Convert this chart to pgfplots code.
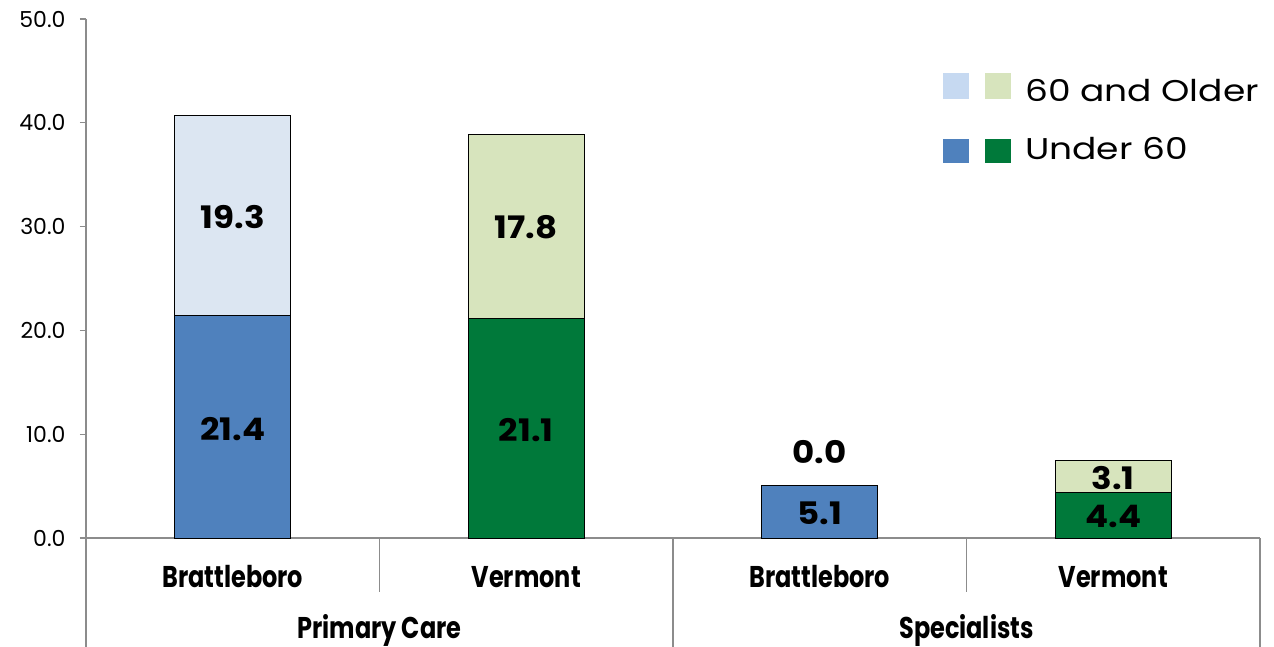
\documentclass[border=0pt]{standalone}
\usepackage{pgfplots}
\pgfplotsset{compat=1.18}
\usepackage{fontspec}
\setmainfont{Poppins}
\newfontfamily\lab[FakeStretch=0.8]{Poppins}
\newfontfamily\dlab[FakeStretch=1.1]{Poppins}
\newfontfamily\leg[FakeStretch=1.2]{Poppins}
\definecolor{bblue}{HTML}{4F81BD}
\definecolor{blight}{HTML}{DCE6F2}
\definecolor{vgreen}{HTML}{00793A}
\definecolor{glight}{HTML}{D7E4BD}
\definecolor{legblue}{HTML}{C6D9F1}
\definecolor{axgray}{HTML}{8C8C8C}
\begin{document}
\begin{tikzpicture}
\pgfplotsset{base/.style={at={(0,0)}, anchor=south west, scale only axis,
  width=1174pt, height=519pt, xmin=-0.5, xmax=3.5, ymin=0, ymax=50, clip=false}}
\begin{axis}[base, ybar stacked, bar width=116pt,
  axis x line*=bottom, axis y line*=left,
  axis line style={axgray, line width=1.2pt},
  ytick={0,10,...,50}, ytick style={axgray, line width=1.2pt},
  major tick length=6pt, tick align=outside,
  /pgf/number format/assume math mode=true,
  yticklabel={\pgfmathprintnumber[fixed,fixed zerofill,precision=1]{\tick}},
  yticklabel style={font=\fontsize{22}{26}\selectfont, xshift=-11pt},
  xtick={0,1,2,3}, xticklabels={Brattleboro,Vermont,Brattleboro,Vermont},
  xtick style={draw=none},
  xticklabel style={font=\lab\bfseries\fontsize{30}{32}\selectfont, anchor=base, yshift=-43pt},
]
\addplot[fill=bblue, draw=black, line width=1pt] coordinates {(0,21.4)(1,0)(2,5.1)(3,0)};
\addplot[fill=vgreen, draw=black, line width=1pt] coordinates {(0,0)(1,21.1)(2,0)(3,4.4)};
\addplot[fill=blight, draw=black, line width=1pt] coordinates {(0,19.3)(1,0)(2,0)(3,0)};
\addplot[fill=glight, draw=black, line width=1pt] coordinates {(0,0)(1,17.8)(2,0)(3,3.1)};
\draw[axgray, line width=1.2pt] (axis cs:-0.5,0) -- ([yshift=-110pt]axis cs:-0.5,0);
\draw[axgray, line width=1.2pt] (axis cs:0.5,0) -- ([yshift=-54pt]axis cs:0.5,0);
\draw[axgray, line width=1.2pt] (axis cs:1.5,0) -- ([yshift=-110pt]axis cs:1.5,0);
\draw[axgray, line width=1.2pt] (axis cs:2.5,0) -- ([yshift=-54pt]axis cs:2.5,0);
\draw[axgray, line width=1.2pt] (axis cs:3.5,0) -- ([yshift=-110pt]axis cs:3.5,0);
\node[font=\lab\bfseries\fontsize{30}{32}\selectfont, anchor=base] at ([yshift=-100pt]axis cs:0.5,0) {Primary Care};
\node[font=\lab\bfseries\fontsize{30}{32}\selectfont, anchor=base] at ([yshift=-100pt]axis cs:2.5,0) {Specialists};
\end{axis}
\begin{axis}[base, hide axis]
\addplot[only marks, mark=none, nodes near coords, point meta=explicit symbolic,
  nodes near coords style={font=\dlab\bfseries\fontsize{31}{34}\selectfont, anchor=center, text=black}]
  table[meta=lab] {
x y lab
0 10.5 21.4
0 30.9 19.3
1 10.4 21.1
1 29.9 17.8
2 2.4 5.1
2 8.3 0.0
3 2.1 4.4
3 5.8 3.1
};
\end{axis}
% legend
\fill[legblue] (857pt,439pt) rectangle (883pt,465pt);
\fill[glight] (899pt,439pt) rectangle (925pt,465pt);
\fill[bblue] (857pt,375pt) rectangle (883pt,399pt);
\fill[vgreen] (899pt,375pt) rectangle (925pt,399pt);
\node[font=\leg\fontsize{30}{32}\selectfont, anchor=base west, inner sep=0pt] at (939pt,436pt) {60 and Older};
\node[font=\leg\fontsize{30}{32}\selectfont, anchor=base west, inner sep=0pt] at (939pt,378pt) {Under 60};
\pgfresetboundingbox
\useasboundingbox (-86pt,-108pt) rectangle (1188pt,538pt);
\end{tikzpicture}
\end{document}
